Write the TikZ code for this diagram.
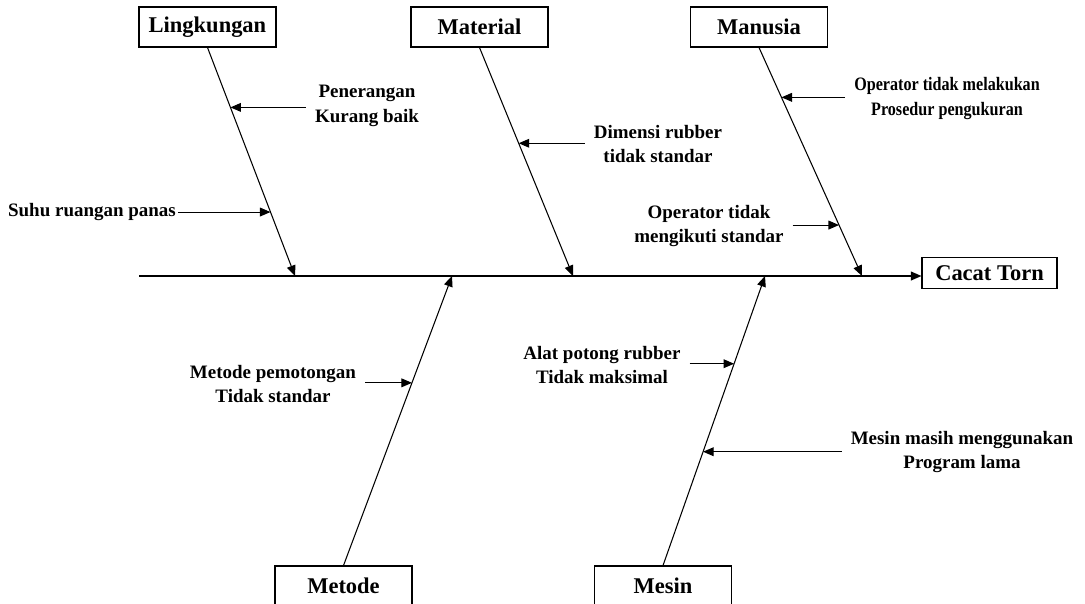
\documentclass[tikz,border=0pt]{standalone}
\usepackage{fontspec}
\setmainfont{Liberation Serif}
\usepackage{graphicx}
\usepackage{tikz}
\usetikzlibrary{arrows.meta,positioning}
\tikzstyle{arrow} = [line width=0.6pt,-{Triangle[length=6pt,width=5pt]}]
\tikzstyle{cause} = [rectangle, draw, line width=0.6pt, minimum width=2.74cm, minimum height=0.8cm, font=\fontsize{12.8}{15}\selectfont\bfseries]
\tikzstyle{reason} = [align=center, inner sep=5pt, font=\fontsize{10.8}{14}\selectfont\bfseries]

\begin{document}
\begin{tikzpicture}[x=0.02cm, y=-0.02cm]
\useasboundingbox (0,0) rectangle (1085,603);

% Effect and spine
\node (torn) [cause, minimum width=2.7cm, minimum height=0.62cm] at (989.5,273) {Cacat Torn};
\coordinate (tail) at (139,276);
\draw[arrow, line width=0.8pt] (tail) -- (tail -| torn.west);

% Categories
\node (lingk) [cause] at (207.5,27) {Lingkungan};
\node (mat) [cause] at (479.5,27) {Material};
\node (manu) [cause] at (759,27) {Manusia};
\node (metode) [cause] at (343.5,586) {Metode};
\node (mesin) [cause] at (663,586) {Mesin};

% Joints on the spine
\coordinate (jl) at (295,276);
\coordinate (jmat) at (573,276);
\coordinate (jmanu) at (862,276);
\coordinate (jmet) at (452,276);
\coordinate (jmes) at (765,276);

% Bones
\draw[arrow] (lingk.south) -- coordinate[pos=0.262] (lk1) coordinate[pos=0.72] (lk2) (jl);
\draw[arrow] (mat.south) -- coordinate[pos=0.419] (mt1) (jmat);
\draw[arrow] (manu.south) -- coordinate[pos=0.218] (mn1) coordinate[pos=0.777] (mn2) (jmanu);
\draw[arrow] (metode.north) -- coordinate[pos=0.631] (me1) (jmet);
\draw[arrow] (mesin.north) -- coordinate[pos=0.697] (ms1) coordinate[pos=0.393] (ms2) (jmes);

% Causes
\node (pener) [reason] at (367,106) {Penerangan\\Kurang baik};
\node (suhu) [reason, inner sep=1pt] at (92,212) {Suhu ruangan panas};
\node (dimensi) [reason] at (658,144) {Dimensi rubber\\tidak standar};
\node (opmel) [reason] at (947,98) {\scalebox{0.85}[1]{\begin{tabular}{@{}c@{}}Operator tidak melakukan\\Prosedur pengukuran\end{tabular}}};
\node (opstd) [reason] at (709,226) {Operator tidak\\mengikuti standar};
\node (metpot) [reason] at (273,384) {Metode pemotongan\\Tidak standar};
\node (alat) [reason] at (602,365) {Alat potong rubber\\Tidak maksimal};
\node (mesprog) [reason] at (962,452) {Mesin masih menggunakan\\Program lama};

\draw[arrow] (lk1 -| pener.west) -- (lk1);
\draw[arrow] (lk2 -| suhu.east) -- (lk2);
\draw[arrow] (mt1 -| dimensi.west) -- (mt1);
\draw[arrow] (mn1 -| opmel.west) -- (mn1);
\draw[arrow] (mn2 -| opstd.east) -- (mn2);
\draw[arrow] (me1 -| metpot.east) -- (me1);
\draw[arrow] (ms1 -| alat.east) -- (ms1);
\draw[arrow] (ms2 -| mesprog.west) -- (ms2);

\end{tikzpicture}
\end{document}
